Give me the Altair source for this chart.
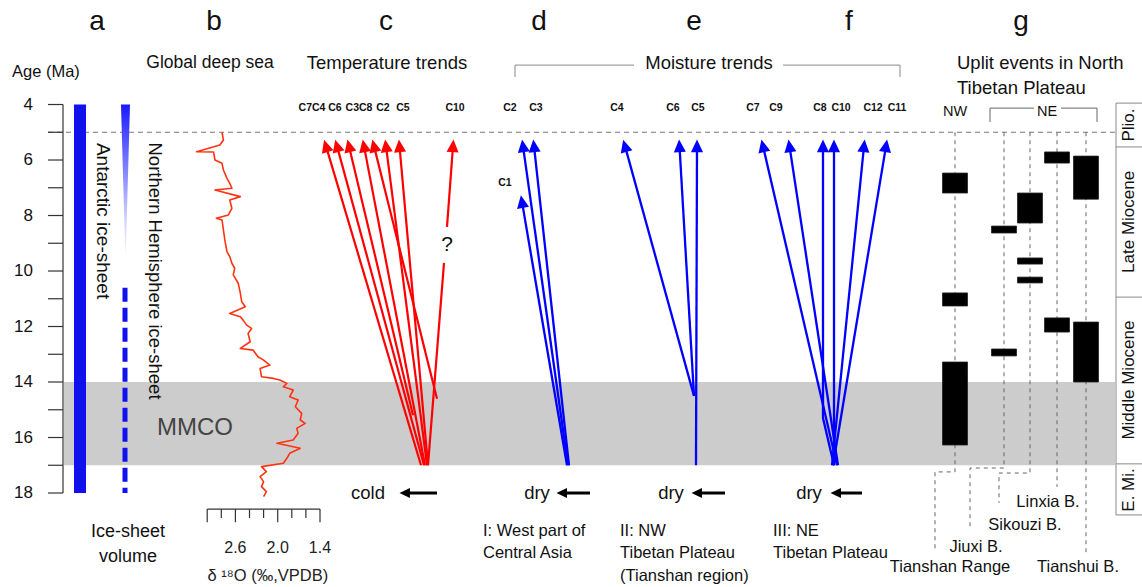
import math
import altair as alt
import pandas as pd

W, H = 1142, 587
AGE_TOP, AGE_BOTTOM = 0.234, 21.387          # Ma at top / bottom edge of the page
FONT = "Liberation Sans"
RED, BLUE, ORANGE = "#ff0000", "#0000ff", "#ff3311"

# ---------------- data ----------------
# Panel b: global deep-sea benthic d18O (permil) versus age (Ma)
b_age = [5.00, 5.28, 5.46, 5.70, 5.71, 6.00, 6.12, 6.36, 6.66, 6.84, 7.02, 7.08, 7.32, 7.44,
         7.74, 7.98, 8.10, 8.16, 8.52, 8.88, 9.30, 9.48, 9.72, 9.90, 10.14, 10.44, 10.80, 11.11,
         11.29, 11.53, 11.65, 11.77, 11.95, 12.07, 12.25, 12.55, 12.79, 12.85, 13.09, 13.21, 13.39,
         13.51, 13.81, 13.87, 13.93, 14.05, 14.17, 14.29, 14.53, 14.65, 14.89, 15.13, 15.37, 15.49,
         15.67, 15.85, 16.09, 16.21, 16.39, 16.57, 16.75, 16.93, 17.05, 17.23, 17.41, 17.59, 17.77,
         17.95, 18.13]
b_d18o = [2.79, 2.77, 2.82, 3.15, 2.91, 2.89, 2.79, 2.77, 2.72, 2.68, 2.65, 2.89, 2.53, 2.68,
          2.65, 2.70, 2.87, 2.79, 2.77, 2.75, 2.72, 2.68, 2.65, 2.61, 2.63, 2.56, 2.53, 2.51,
          2.46, 2.68, 2.53, 2.49, 2.44, 2.37, 2.42, 2.39, 2.53, 2.35, 2.28, 2.20, 2.11,
          2.25, 2.23, 2.06, 1.97, 1.87, 1.92, 1.78, 1.83, 1.71, 1.75, 1.66, 1.68, 1.61,
          1.73, 1.71, 1.78, 2.01, 1.68, 1.83, 1.87, 1.92, 2.23, 2.16, 2.25, 2.20, 2.23,
          2.16, 2.20]
d18o_ticks = [3.0, 2.8, 2.6, 2.4, 2.2, 2.0, 1.8, 1.6, 1.4]
d18o_labels = [2.6, 2.0, 1.4]

age_ticks = list(range(4, 19))
age_labels = [4, 6, 8, 10, 12, 14, 16, 18]
mmco = (14, 17)

# Panel c/d/e/f trend arrows: points from origin to arrow head (position, age)
temp_arrows = {
    "C7": [(421, 17.0), (326, 5.5)], "C4": [(424, 17.0), (337, 5.5)],
    "C6": [(413, 15.2), (349, 5.5)], "C3": [(425, 17.0), (364, 5.5)],
    "C8": [(437, 14.6), (374, 5.5)], "C2": [(427, 17.0), (386, 5.5)],
    "C5": [(428, 17.0), (399.5, 5.5)], "C10": [(447, 8.41), (453, 5.5)],
}
temp_c10_lower = {"C10b": [(428, 17.0), (444, 9.71)]}
moist_arrows = {
    "dC2": [(568, 17.0), (523, 5.5)], "dC3": [(569, 17.0), (534, 5.5)],
    "dC1": [(567, 17.0), (522, 7.51)],
    "eC4": [(694, 14.5), (625, 5.5)], "eC6": [(694, 14.5), (679.5, 5.5)],
    "eC5": [(696, 17.0), (697, 5.5)],
    "fC7": [(837, 17.0), (763, 5.5)], "fC9": [(838, 17.0), (789.5, 5.5)],
    "fC8": [(834, 17.0), (823, 15.3), (823, 5.5)], "fC10": [(834, 17.0), (834, 5.5)],
    "fC12": [(832, 17.0), (864, 5.5)], "fC11": [(833, 17.0), (886, 5.5)],
}

# Panel g uplift events: column, start age, end age
g_col = [955, 955, 955, 1004, 1004, 1030, 1030, 1030, 1057, 1057, 1086, 1086]
g_top = [6.47, 10.79, 13.28, 8.38, 12.81, 7.19, 9.53, 10.22, 5.71, 11.69, 5.86, 11.84]
g_bot = [7.19, 11.26, 16.27, 8.63, 13.06, 8.27, 9.75, 10.43, 6.11, 12.20, 7.41, 14.00]

# ---------------- scales & helpers ----------------
XS = alt.Scale(domain=[0, W], nice=False, zero=False)
YS = alt.Scale(domain=[AGE_TOP, AGE_BOTTOM], reverse=True, nice=False, zero=False)
DS = alt.Scale(domain=[-10.2596, 5.939], reverse=True, nice=False, zero=False)
HEAD = "M0,-1L0.9,0.9L-0.9,0.9Z"


def ypx(age):
    return (age - AGE_TOP) / (AGE_BOTTOM - AGE_TOP) * H


def X(f="x", scale=XS):
    return alt.X(f"{f}:Q", scale=scale, axis=None)


def Y(f="age"):
    return alt.Y(f"{f}:Q", scale=YS, axis=None)


def poly_df(paths):
    rows = []
    for pid, pts in paths.items():
        for i, (x, a) in enumerate(pts):
            rows.append(dict(pid=pid, ord=i, x=x, age=a))
    return pd.DataFrame(rows)


def lines(paths, color, width, dash=None, scale=XS, cap="butt"):
    kw = dict(color=color, strokeWidth=width, clip=False, strokeCap=cap)
    if dash:
        kw["strokeDash"] = dash
    return alt.Chart(poly_df(paths)).mark_line(**kw).encode(
        x=X(scale=scale), y=Y(), detail="pid:N", order="ord:Q")


def heads(paths, color, size):
    rows = []
    for pid, pts in paths.items():
        (x0, a0), (x1, a1) = pts[-2], pts[-1]
        dx, dy = x1 - x0, ypx(a1) - ypx(a0)
        rows.append(dict(x=x1, age=a1, ang=math.degrees(math.atan2(dx, -dy)) % 360))
    return alt.Chart(pd.DataFrame(rows)).mark_point(
        shape=HEAD, filled=True, size=size, color=color, opacity=1, strokeWidth=0
    ).encode(x=X(), y=Y(), angle=alt.Angle("ang:Q", scale=None))


def texts(rows, align="center", weight="normal", scale=XS):
    df = pd.DataFrame(rows, columns=["text", "x", "age", "size", "angle", "color"])
    return alt.Chart(df).mark_text(font=FONT, align=align, baseline="middle",
                                   fontWeight=weight).encode(
        x=X(scale=scale), y=Y(), text="text:N",
        size=alt.Size("size:Q", scale=None), angle=alt.Angle("angle:Q", scale=None),
        color=alt.Color("color:N", scale=None))


layers = []

# MMCO band
layers.append(alt.Chart(pd.DataFrame({"x0": [64], "x1": [1115], "a0": [mmco[0]], "a1": [mmco[1]]}))
              .mark_rect(color="#cccccc").encode(x=X("x0"), x2="x1", y=Y("a0"), y2="a1"))
# age-5 dashed line
layers.append(lines({"p5": [(48, 5), (1116, 5)]}, "#777777", 1, dash=[5, 4]))

# left age axis
axis_paths = {"spine": [(63, age_ticks[0]), (63, age_ticks[-1])]}
axis_paths.update({f"t{a}": [(48, a), (63, a)] for a in age_ticks})
layers.append(lines(axis_paths, "#333333", 1.2))

# panel a: ice sheets
layers.append(alt.Chart(pd.DataFrame({"x0": [74], "x1": [86], "a0": [4], "a1": [18]}))
              .mark_rect(color="#1111ee").encode(x=X("x0"), x2="x1", y=Y("a0"), y2="a1"))
nh = pd.DataFrame({"age": [4.0, 9.7], "xl": [121, 125.5], "xr": [130, 125.5]})
layers.append(alt.Chart(nh).mark_area(
    orient="horizontal",
    color=alt.Gradient(gradient="linear", x1=0, y1=0, x2=0, y2=1,
                       stops=[alt.GradientStop(color="#1a1aff", offset=0),
                              alt.GradientStop(color="#5a5aff", offset=0.25),
                              alt.GradientStop(color="#ccccff", offset=0.7),
                              alt.GradientStop(color="#ffffff", offset=1)])
).encode(y=Y(), x=X("xl"), x2="xr"))
layers.append(lines({"nhd": [(125, 10.6), (125, 18.0)]}, "#1111ee", 5, dash=[14, 6]))

# panel b: d18O curve and its axis
layers.append(alt.Chart(pd.DataFrame({"d": b_d18o, "age": b_age})).mark_line(
    color=ORANGE, strokeWidth=1.6, strokeJoin="round").encode(
    x=X("d", DS), y=Y(), order=alt.Order("age:Q")))
b_axis = {"base": [(d18o_ticks[0], 18.58), (d18o_ticks[-1], 18.58)]}
for d in d18o_ticks:
    long_tick = d in d18o_labels or d == d18o_ticks[0]
    b_axis[f"bt{d}"] = [(d, 18.58), (d, 18.58 + (0.47 if long_tick else 0.32))]
layers.append(lines(b_axis, "#333333", 1.2, scale=DS))
layers.append(texts([(f"{v:.1f}", v, 19.98, 16, 0, "#222222") for v in d18o_labels], scale=DS))
layers.append(texts([("δ ¹⁸O (‰,VPDB)", 2.14, 20.99, 16.5, 0, "#222222")], scale=DS))

# trend arrows
layers.append(lines(temp_arrows, RED, 2.2))
layers.append(lines(temp_c10_lower, RED, 2.2))
layers.append(heads(temp_arrows, RED, 180))
layers.append(lines(moist_arrows, BLUE, 2.3))
layers.append(heads(moist_arrows, BLUE, 180))

# cold / dry arrows
dir_arrows = {"cold": [(437, 18.0), (405, 18.0)], "dry1": [(590, 18.0), (562, 18.0)],
              "dry2": [(725, 18.0), (697, 18.0)], "dry3": [(862, 18.0), (836, 18.0)]}
layers.append(lines(dir_arrows, "#000000", 3))
layers.append(heads(dir_arrows, "#000000", 120))

# brackets
layers.append(lines({"mb1": [(515, 3.01), (515, 2.58), (634, 2.58)],
                     "mb2": [(783, 2.58), (900, 2.58), (900, 3.01)]}, "#888888", 1))
layers.append(lines({"ne1": [(990, 4.63), (990, 4.13), (1034, 4.13)],
                     "ne2": [(1061, 4.13), (1097, 4.13), (1097, 4.63)]}, "#666666", 1))

# panel g dashed guides and bars
g_paths = {
    "nw": [(955, 5), (955, 17.24), (935, 17.24), (935, 20.13)],
    "jx": [(1004, 5), (1004, 17.10), (970, 17.10), (970, 19.23)],
    "sk": [(1030, 5), (1030, 17.28), (999, 17.28), (999, 18.36)],
    "lx": [(1057, 5), (1057, 17.78)],
    "ts": [(1086, 5), (1086, 20.13)],
}
layers.append(lines(g_paths, "#666666", 1, dash=[4, 4]))
bars = pd.DataFrame({"x0": [c - 12.5 for c in g_col], "x1": [c + 12.5 for c in g_col],
                     "a0": g_top, "a1": g_bot})
layers.append(alt.Chart(bars).mark_rect(color="#000000", stroke="#222222", strokeWidth=0.8)
              .encode(x=X("x0"), x2="x1", y=Y("a0"), y2="a1"))

# epoch column
ep = {"v": [(1116, 3.95), (1116, 18.79)]}
ep.update({f"h{a}": [(1116, a), (1142, a)] for a in [3.95, 5.53, 10.94, 16.95, 18.79]})
layers.append(lines(ep, "#888888", 1))

# ---------------- texts ----------------
K = "#111111"
center_rows = [
    ("a", 97, 1.03, 28, 0, K), ("b", 214, 1.03, 28, 0, K), ("c", 386, 1.03, 28, 0, K),
    ("d", 539, 1.03, 28, 0, K), ("e", 694, 1.03, 28, 0, K), ("f", 849, 1.03, 28, 0, K),
    ("g", 1021, 1.03, 28, 0, K),
    ("Global deep sea", 210, 2.50, 17.5, 0, K), ("Temperature trends", 387, 2.50, 18.5, 0, K),
    ("Moisture trends", 709, 2.50, 18.5, 0, K),
    ("Antarctic ice-sheet", 103, 8.20, 19, 90, K),
    ("Northern Hemisphere ice-sheet", 155, 10.0, 18.5, 90, K),
    ("MMCO", 195, 15.66, 24, 0, "#444444"),
    ("Ice-sheet", 128, 19.41, 18, 0, K), ("volume", 128, 20.31, 18, 0, K),
    ("?", 447, 9.06, 21, 0, K),
    ("cold", 368, 18.0, 18.5, 0, K), ("dry", 537, 18.0, 18.5, 0, K),
    ("dry", 671, 18.0, 18.5, 0, K), ("dry", 809, 18.0, 18.5, 0, K),
    ("Tianshan Range", 950, 20.67, 16.5, 0, K), ("Jiuxi B.", 976, 19.95, 16.5, 0, K),
    ("Sikouzi B.", 1025, 19.15, 16.5, 0, K), ("Linxia B.", 1048, 18.32, 16.5, 0, K),
    ("Tianshui B.", 1078, 20.67, 16.5, 0, K),
    ("NW", 955, 4.27, 14.5, 0, K), ("NE", 1047, 4.27, 14.5, 0, K),
    ("Plio.", 1129, 4.74, 17, 270, K), ("Late Miocene", 1129, 8.23, 17, 270, K),
    ("Middle Miocene", 1129, 13.93, 17, 270, K), ("E. Mi.", 1129, 17.89, 17, 270, K),
]
left_rows = [
    ("Age (Ma)", 12, 2.83, 16.5, 0, K),
    ("Uplit events in North", 957, 2.50, 18.5, 0, K), ("Tibetan Plateau", 957, 3.40, 18.5, 0, K),
    ("I: West part of", 483, 19.37, 16.5, 0, K), ("Central Asia", 483, 20.16, 16.5, 0, K),
    ("II: NW", 620, 19.37, 16.5, 0, K), ("Tibetan Plateau", 620, 20.16, 16.5, 0, K),
    ("(Tianshan region)", 620, 20.99, 16.5, 0, K),
    ("III: NE", 773, 19.37, 16.5, 0, K), ("Tibetan Plateau", 773, 20.16, 16.5, 0, K),
]
right_rows = [(str(a), 33, a, 17, 0, K) for a in age_labels]
CS = 10.5
c_rows = [
    ("C7C4", 312, 4.13, CS, 0, K), ("C6", 335, 4.13, CS, 0, K), ("C3C8", 359, 4.13, CS, 0, K),
    ("C2", 383, 4.13, CS, 0, K), ("C5", 403, 4.13, CS, 0, K), ("C10", 455, 4.13, CS, 0, K),
    ("C2", 510, 4.13, CS, 0, K), ("C3", 536, 4.13, CS, 0, K), ("C1", 505, 6.83, CS, 0, K),
    ("C4", 617, 4.13, CS, 0, K), ("C6", 673, 4.13, CS, 0, K), ("C5", 698, 4.13, CS, 0, K),
    ("C7", 753, 4.13, CS, 0, K), ("C9", 776, 4.13, CS, 0, K), ("C8", 820, 4.13, CS, 0, K),
    ("C10", 841, 4.13, CS, 0, K), ("C12", 873, 4.13, CS, 0, K), ("C11", 897, 4.13, CS, 0, K),
]
layers.append(texts(center_rows))
layers.append(texts(left_rows, align="left"))
layers.append(texts(right_rows, align="right"))
layers.append(texts(c_rows, weight="bold"))

chart = alt.layer(*layers).resolve_scale(x="independent").properties(
    width=W, height=H, padding=0, autosize="none", background="white"
).configure_view(stroke=None)

chart.save("out.html", embed_options={"renderer": "svg", "actions": False})
